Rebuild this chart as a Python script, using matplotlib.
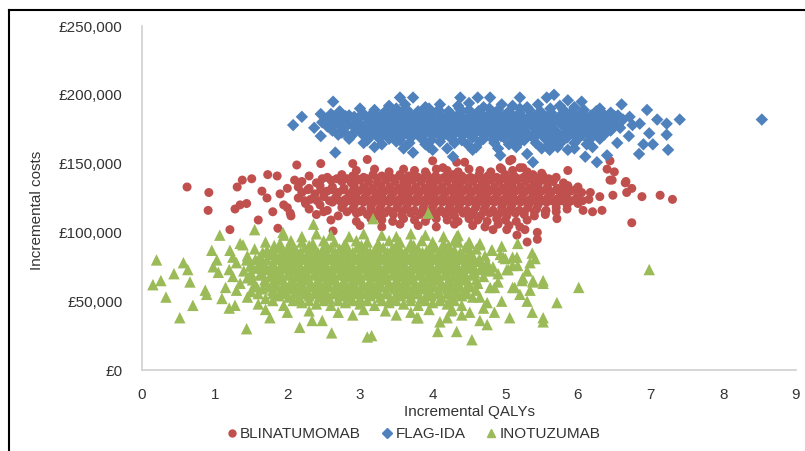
import matplotlib
matplotlib.use("Agg")
import matplotlib.pyplot as plt
from matplotlib.lines import Line2D
from matplotlib.ticker import FuncFormatter

plt.rcParams['font.family'] = ['Liberation Sans', 'DejaVu Sans']

# (incremental QALYs, incremental cost in £ thousands)
BLINATUMOMAB = [
    # core rows
    (2.95,145),(3.20,146),(3.40,144),(3.60,146),(3.75,145),(3.90,144),(4.05,146),(4.20,145),(4.35,144),(4.50,146),(4.65,145),(4.80,144),(4.95,146),(5.10,145),(5.30,144),(5.50,143),
    (2.30,141),(2.55,140),(2.75,142),(2.90,141),(3.05,140),(3.18,142),(3.30,141),(3.42,140),(3.55,142),(3.67,141),(3.80,140),(3.92,142),(4.04,141),(4.16,140),(4.28,142),(4.40,141),(4.52,140),(4.64,142),(4.76,141),(4.88,140),(5.00,142),(5.12,141),(5.25,140),(5.38,142),(5.52,141),(5.70,140),
    (2.20,137),(2.40,136),(2.60,138),(2.75,137),(2.88,136),(3.00,138),(3.12,137),(3.24,136),(3.36,138),(3.48,137),(3.60,136),(3.72,138),(3.84,137),(3.96,136),(4.08,138),(4.20,137),(4.32,136),(4.44,138),(4.56,137),(4.68,136),(4.80,138),(4.92,137),(5.04,136),(5.16,138),(5.28,137),(5.40,136),(5.52,138),(5.66,137),(5.80,136),
    (2.15,133),(2.30,132),(2.45,134),(2.62,133),(2.78,132),(2.92,134),(3.05,133),(3.17,132),(3.29,134),(3.41,133),(3.53,132),(3.65,134),(3.77,133),(3.89,132),(4.01,134),(4.13,133),(4.25,132),(4.37,134),(4.49,133),(4.61,132),(4.73,134),(4.85,133),(4.97,132),(5.09,134),(5.21,133),(5.33,132),(5.45,134),(5.58,133),(5.72,132),(5.86,134),(6.00,133),
    (2.20,129),(2.38,128),(2.55,130),(2.70,129),(2.85,128),(2.98,130),(3.10,129),(3.22,128),(3.34,130),(3.46,129),(3.58,128),(3.70,130),(3.82,129),(3.94,128),(4.06,130),(4.18,129),(4.30,128),(4.42,130),(4.54,129),(4.66,128),(4.78,130),(4.90,129),(5.02,128),(5.14,130),(5.26,129),(5.38,128),(5.50,130),(5.63,129),(5.76,128),(5.90,130),(6.05,129),
    (2.15,125),(2.32,124),(2.50,126),(2.66,125),(2.80,124),(2.94,126),(3.06,125),(3.18,124),(3.30,126),(3.42,125),(3.54,124),(3.66,126),(3.78,125),(3.90,124),(4.02,126),(4.14,125),(4.26,124),(4.38,126),(4.50,125),(4.62,124),(4.74,126),(4.86,125),(4.98,124),(5.10,126),(5.22,125),(5.34,124),(5.46,126),(5.58,125),(5.70,124),(5.84,126),(5.98,125),(6.15,124),
    (2.25,121),(2.45,120),(2.62,122),(2.78,121),(2.92,120),(3.05,122),(3.17,121),(3.29,120),(3.41,122),(3.53,121),(3.65,120),(3.77,122),(3.89,121),(4.01,120),(4.13,122),(4.25,121),(4.37,120),(4.49,122),(4.61,121),(4.73,120),(4.85,122),(4.97,121),(5.09,120),(5.21,122),(5.33,121),(5.45,120),(5.57,122),(5.70,121),(5.85,120),(6.00,121),
    (2.30,117),(2.55,116),(2.75,118),(2.90,117),(3.03,116),(3.15,118),(3.27,117),(3.39,116),(3.51,118),(3.63,117),(3.75,116),(3.87,118),(3.99,117),(4.11,116),(4.23,118),(4.35,117),(4.47,116),(4.59,118),(4.71,117),(4.83,116),(4.95,118),(5.07,117),(5.19,116),(5.31,118),(5.43,117),(5.56,116),(5.70,118),(5.85,117),
    (2.40,113),(2.70,112),(2.95,114),(3.10,113),(3.22,112),(3.34,114),(3.46,113),(3.58,112),(3.70,114),(3.82,113),(3.94,112),(4.06,114),(4.18,113),(4.30,112),(4.42,114),(4.54,113),(4.66,112),(4.78,114),(4.90,113),(5.02,112),(5.14,114),(5.26,113),(5.40,112),(5.55,113),
    (2.60,109),(2.95,108),(3.15,110),(3.30,109),(3.45,108),(3.60,110),(3.75,109),(3.90,108),(4.05,110),(4.20,109),(4.35,108),(4.50,110),(4.62,109),(4.75,108),(4.88,110),(5.00,109),(5.15,108),(5.30,109),
    (3.00,105),(3.30,104),(3.55,106),(3.80,105),(4.05,104),(4.30,106),(4.55,105),(4.72,104),(4.90,106),(5.05,105),(5.20,104),
    # additional core points
    (2.48,139),(2.68,139),(2.82,139),(2.96,139),(3.10,139),(3.24,139),(3.36,139),(3.49,139),(3.61,139),(3.73,139),(3.86,139),(3.98,139),(4.10,139),(4.22,139),(4.34,139),(4.46,139),(4.58,139),(4.70,139),(4.82,139),(4.94,139),(5.06,139),(5.18,139),(5.32,139),(5.45,139),(5.60,139),
    (2.28,131),(2.46,131),(2.62,131),(2.77,131),(2.91,131),(3.04,131),(3.16,131),(3.28,131),(3.40,131),(3.52,131),(3.64,131),(3.76,131),(3.88,131),(4.00,131),(4.12,131),(4.24,131),(4.36,131),(4.48,131),(4.60,131),(4.72,131),(4.84,131),(4.96,131),(5.08,131),(5.20,131),(5.32,131),(5.44,131),(5.57,131),(5.70,131),(5.83,131),(5.96,131),
    (2.24,123),(2.41,123),(2.58,123),(2.72,123),(2.86,123),(3.00,123),(3.12,123),(3.24,123),(3.36,123),(3.48,123),(3.60,123),(3.72,123),(3.84,123),(3.96,123),(4.08,123),(4.20,123),(4.32,123),(4.44,123),(4.56,123),(4.68,123),(4.80,123),(4.92,123),(5.04,123),(5.16,123),(5.28,123),(5.40,123),(5.52,123),(5.64,123),(5.77,123),(5.91,123),(6.06,123),
    (2.50,115),(2.82,115),(3.00,115),(3.16,115),(3.30,115),(3.44,115),(3.58,115),(3.72,115),(3.86,115),(4.00,115),(4.14,115),(4.28,115),(4.42,115),(4.56,115),(4.70,115),(4.84,115),(4.98,115),(5.12,115),(5.26,115),(5.40,115),(5.55,115),(5.70,115),
    # scattered points
    (0.62,133),(0.92,129),(0.91,116),(1.21,102),(1.31,133),(1.38,138),(1.51,139),(1.73,142),(1.86,141),(1.72,125),(1.35,120),(1.44,121),(1.28,117),(1.60,109),(1.87,103),
    (2.13,149),(2.46,150),(2.90,150),(3.10,153),(4.00,152),(4.14,147),(4.33,151),(4.44,151),(4.93,147),(5.06,152),(5.09,153),(5.20,147),(5.24,147),(5.86,145),
    (6.40,146),(6.44,152),(6.47,138),(6.66,137),(6.17,129),(6.30,126),(6.48,127),(6.67,129),(6.44,138),(6.50,144),(6.65,136),(6.74,132),(6.88,126),(7.13,127),(7.30,124),(6.74,107),
    (6.20,115),(6.33,116),(6.07,116),(5.71,110),(5.44,100),(5.30,93),(5.44,95),(5.27,102),(5.16,98),(5.02,102),(4.83,102),
    (2.00,132),(1.95,120),(2.05,112),(1.90,128),(2.10,138),(1.65,130),(1.80,115),(2.00,118),(2.04,114),(2.63,101),
]

FLAG_IDA = [
    (3.40,192),(3.62,193),(3.90,191),(4.10,193),(4.35,192),(4.50,194),(4.70,191),(4.95,193),(5.10,192),(5.30,191),(5.45,193),(5.75,192),(5.95,191),(6.30,190),
    (2.72,188),(3.00,190),(3.20,189),(3.35,188),(3.50,190),(3.65,189),(3.80,188),(3.95,190),(4.08,189),(4.22,188),(4.37,190),(4.50,189),(4.63,188),(4.78,190),(4.90,189),(5.05,188),(5.20,190),(5.33,189),(5.48,188),(5.62,190),(5.80,189),(5.92,188),(6.08,189),(6.25,188),(6.45,187),
    (2.60,186),(2.85,185),(3.05,186),(3.18,187),(3.30,185),(3.43,186),(3.57,187),(3.70,185),(3.83,186),(3.97,187),(4.10,185),(4.25,186),(4.38,187),(4.52,185),(4.66,186),(4.80,187),(4.93,185),(5.07,186),(5.20,187),(5.35,185),(5.50,186),(5.63,187),(5.77,185),(5.90,186),(6.05,187),(6.18,185),(6.35,186),(6.55,185),
    (2.55,183),(2.70,182),(2.92,184),(3.10,183),(3.22,182),(3.36,184),(3.50,183),(3.63,182),(3.77,184),(3.90,183),(4.03,182),(4.17,184),(4.30,183),(4.45,182),(4.58,184),(4.72,183),(4.85,182),(4.98,184),(5.12,183),(5.27,182),(5.40,184),(5.55,183),(5.68,182),(5.82,184),(5.97,183),(6.10,182),(6.25,184),(6.42,183),(6.62,182),
    (2.48,180),(2.65,179),(2.80,181),(2.98,180),(3.12,179),(3.27,181),(3.40,180),(3.55,179),(3.68,181),(3.82,180),(3.95,179),(4.08,181),(4.22,180),(4.36,179),(4.50,181),(4.63,180),(4.77,179),(4.90,181),(5.03,180),(5.17,179),(5.32,181),(5.45,180),(5.60,179),(5.74,181),(5.88,180),(6.02,179),(6.15,181),(6.30,180),(6.48,179),
    (2.55,177),(2.75,176),(2.90,178),(3.05,177),(3.20,176),(3.33,178),(3.47,177),(3.60,176),(3.74,178),(3.87,177),(4.00,176),(4.14,178),(4.28,177),(4.42,176),(4.55,178),(4.68,177),(4.82,176),(4.95,178),(5.08,177),(5.23,176),(5.37,178),(5.52,177),(5.65,176),(5.80,178),(5.93,177),(6.07,176),(6.20,178),(6.38,177),(6.58,176),
    (2.62,174),(2.78,173),(2.95,175),(3.10,174),(3.25,173),(3.38,175),(3.52,174),(3.66,173),(3.80,175),(3.93,174),(4.06,173),(4.20,175),(4.33,174),(4.47,173),(4.60,175),(4.74,174),(4.87,173),(5.00,175),(5.14,174),(5.28,173),(5.42,175),(5.56,174),(5.70,173),(5.84,175),(5.98,174),(6.12,173),(6.27,175),(6.45,174),
    (2.70,171),(2.88,170),(3.02,172),(3.17,171),(3.30,170),(3.45,172),(3.60,171),(3.72,170),(3.86,172),(4.00,171),(4.13,170),(4.27,172),(4.40,171),(4.54,170),(4.68,172),(4.81,171),(4.94,170),(5.08,172),(5.22,171),(5.36,170),(5.50,172),(5.64,171),(5.78,170),(5.92,172),(6.06,171),(6.20,170),(6.36,171),
    (2.85,168),(3.10,167),(3.25,169),(3.40,168),(3.55,167),(3.70,169),(3.85,168),(3.98,167),(4.12,169),(4.26,168),(4.40,167),(4.55,169),(4.70,168),(4.84,167),(4.98,169),(5.12,168),(5.26,167),(5.40,169),(5.55,168),(5.70,167),(5.85,169),(6.00,168),(6.15,167),(6.30,168),
    (3.05,165),(3.30,164),(3.50,166),(3.68,165),(3.90,164),(4.10,166),(4.30,165),(4.48,164),(4.65,166),(4.85,165),(5.05,164),(5.20,166),(5.42,165),(5.60,164),(5.78,166),(5.95,165),(6.12,164),
    (3.20,162),(3.60,161),(3.95,162),(4.20,161),(4.60,162),(4.90,161),(5.15,162),(5.50,161),(5.72,162),(5.95,161),(6.20,162),
    # additional core points
    (2.63,184.5),(2.80,184.5),(3.00,184.5),(3.16,184.5),(3.29,184.5),(3.43,184.5),(3.56,184.5),(3.70,184.5),(3.84,184.5),(3.97,184.5),(4.10,184.5),(4.24,184.5),(4.37,184.5),(4.51,184.5),(4.65,184.5),(4.79,184.5),(4.92,184.5),(5.05,184.5),(5.19,184.5),(5.33,184.5),(5.47,184.5),(5.61,184.5),(5.75,184.5),(5.89,184.5),(6.03,184.5),(6.17,184.5),(6.33,184.5),(6.50,184.5),
    (2.58,178.5),(2.84,178.5),(3.00,178.5),(3.15,178.5),(3.30,178.5),(3.44,178.5),(3.57,178.5),(3.71,178.5),(3.85,178.5),(3.98,178.5),(4.11,178.5),(4.25,178.5),(4.39,178.5),(4.52,178.5),(4.66,178.5),(4.80,178.5),(4.93,178.5),(5.06,178.5),(5.20,178.5),(5.34,178.5),(5.49,178.5),(5.62,178.5),(5.77,178.5),(5.91,178.5),(6.04,178.5),(6.18,178.5),(6.34,178.5),(6.52,178.5),
    (2.75,172.5),(2.92,172.5),(3.07,172.5),(3.22,172.5),(3.36,172.5),(3.50,172.5),(3.64,172.5),(3.78,172.5),(3.91,172.5),(4.04,172.5),(4.18,172.5),(4.32,172.5),(4.45,172.5),(4.59,172.5),(4.73,172.5),(4.86,172.5),(5.00,172.5),(5.14,172.5),(5.28,172.5),(5.43,172.5),(5.57,172.5),(5.71,172.5),(5.85,172.5),(5.99,172.5),(6.14,172.5),(6.30,172.5),
    # scattered points
    (2.08,178),(2.20,184),(2.63,195),(2.37,176),(2.46,170),(2.46,186),(2.66,158),(3.55,198),(3.73,198),(4.38,198),(4.62,198),(4.79,198),(5.20,198),(5.57,198),(5.67,200),(5.86,196),(6.05,195),
    (6.60,193),(6.95,189),(6.71,184),(6.85,179),(7.09,182),(7.22,179),(7.40,182),(8.53,182),(7.22,171),(7.24,160),(7.03,164),(6.90,164),(6.84,157),(6.54,165),(6.40,156),(6.26,151),(6.10,155),
    (5.38,151),(4.93,156),(5.30,157),(3.73,158),(4.00,160),(4.28,155),(4.55,160),(5.61,160),(5.86,160),(6.75,178),(6.70,170),(6.98,172),
]

INOTUZUMAB = [
    (1.95,98),(2.20,97),(2.40,99),(2.60,98),(2.85,97),(3.05,99),(3.30,98),(3.50,97),(3.70,99),(3.90,98),(4.15,97),(4.35,98),
    (1.70,93),(1.90,92),(2.05,94),(2.20,93),(2.35,92),(2.50,94),(2.65,93),(2.80,92),(2.95,94),(3.10,93),(3.25,92),(3.40,94),(3.55,93),(3.70,92),(3.85,94),(4.00,93),(4.15,92),(4.30,94),(4.50,93),
    (1.55,88),(1.72,87),(1.88,89),(2.00,88),(2.12,87),(2.24,89),(2.36,88),(2.48,87),(2.60,89),(2.72,88),(2.84,87),(2.96,89),(3.08,88),(3.20,87),(3.32,89),(3.44,88),(3.56,87),(3.68,89),(3.80,88),(3.92,87),(4.04,89),(4.16,88),(4.30,87),(4.45,89),(4.60,88),
    (1.45,83),(1.62,82),(1.78,84),(1.90,83),(2.02,82),(2.14,84),(2.26,83),(2.38,82),(2.50,84),(2.62,83),(2.74,82),(2.86,84),(2.98,83),(3.10,82),(3.22,84),(3.34,83),(3.46,82),(3.58,84),(3.70,83),(3.82,82),(3.94,84),(4.06,83),(4.18,82),(4.30,84),(4.42,83),(4.56,82),(4.72,83),
    (1.30,78),(1.50,77),(1.66,79),(1.80,78),(1.92,77),(2.04,79),(2.16,78),(2.28,77),(2.40,79),(2.52,78),(2.64,77),(2.76,79),(2.88,78),(3.00,77),(3.12,79),(3.24,78),(3.36,77),(3.48,79),(3.60,78),(3.72,77),(3.84,79),(3.96,78),(4.08,77),(4.20,79),(4.32,78),(4.44,77),(4.58,79),(4.75,78),
    (1.20,73),(1.40,72),(1.58,74),(1.72,73),(1.85,72),(1.97,74),(2.09,73),(2.21,72),(2.33,74),(2.45,73),(2.57,72),(2.69,74),(2.81,73),(2.93,72),(3.05,74),(3.17,73),(3.29,72),(3.41,74),(3.53,73),(3.65,72),(3.77,74),(3.89,73),(4.01,72),(4.13,74),(4.25,73),(4.37,72),(4.50,74),(4.65,73),(4.80,72),
    (1.25,68),(1.45,67),(1.62,69),(1.76,68),(1.88,67),(2.00,69),(2.12,68),(2.24,67),(2.36,69),(2.48,68),(2.60,67),(2.72,69),(2.84,68),(2.96,67),(3.08,69),(3.20,68),(3.32,67),(3.44,69),(3.56,68),(3.68,67),(3.80,69),(3.92,68),(4.04,67),(4.16,69),(4.28,68),(4.40,67),(4.54,69),(4.70,68),
    (1.35,63),(1.55,62),(1.70,64),(1.83,63),(1.95,62),(2.07,64),(2.19,63),(2.31,62),(2.43,64),(2.55,63),(2.67,62),(2.79,64),(2.91,63),(3.03,62),(3.15,64),(3.27,63),(3.39,62),(3.51,64),(3.63,63),(3.75,62),(3.87,64),(3.99,63),(4.11,62),(4.23,64),(4.35,63),(4.48,62),(4.62,63),
    (1.30,58),(1.50,57),(1.66,59),(1.80,58),(1.92,57),(2.04,59),(2.16,58),(2.28,57),(2.40,59),(2.52,58),(2.64,57),(2.76,59),(2.88,58),(3.00,57),(3.12,59),(3.24,58),(3.36,57),(3.48,59),(3.60,58),(3.72,57),(3.84,59),(3.96,58),(4.08,57),(4.20,59),(4.32,58),(4.45,57),(4.60,58),
    (1.45,53),(1.70,52),(1.88,54),(2.02,53),(2.16,52),(2.30,54),(2.44,53),(2.58,52),(2.72,54),(2.86,53),(3.00,52),(3.14,54),(3.28,53),(3.42,52),(3.56,54),(3.70,53),(3.84,52),(3.98,54),(4.12,53),(4.26,52),(4.40,54),(4.55,53),
    (1.60,48),(1.95,47),(2.20,49),(2.40,48),(2.60,47),(2.80,49),(3.00,48),(3.20,47),(3.40,49),(3.60,48),(3.80,47),(4.00,49),(4.20,48),(4.40,47),
    (2.30,43),(2.70,42),(3.05,44),(3.35,43),(3.70,42),(3.95,44),(4.25,43),
    # additional core points
    (1.82,90.5),(2.06,90.5),(2.30,90.5),(2.54,90.5),(2.78,90.5),(3.02,90.5),(3.26,90.5),(3.50,90.5),(3.74,90.5),(3.98,90.5),(4.22,90.5),
    (1.66,85.5),(1.82,85.5),(1.94,85.5),(2.06,85.5),(2.18,85.5),(2.30,85.5),(2.42,85.5),(2.54,85.5),(2.66,85.5),(2.78,85.5),(2.90,85.5),(3.02,85.5),(3.14,85.5),(3.26,85.5),(3.38,85.5),(3.50,85.5),(3.62,85.5),(3.74,85.5),(3.86,85.5),(3.98,85.5),(4.10,85.5),(4.24,85.5),(4.38,85.5),(4.52,85.5),
    (1.56,80.5),(1.72,80.5),(1.86,80.5),(1.98,80.5),(2.10,80.5),(2.22,80.5),(2.34,80.5),(2.46,80.5),(2.58,80.5),(2.70,80.5),(2.82,80.5),(2.94,80.5),(3.06,80.5),(3.18,80.5),(3.30,80.5),(3.42,80.5),(3.54,80.5),(3.66,80.5),(3.78,80.5),(3.90,80.5),(4.02,80.5),(4.14,80.5),(4.26,80.5),(4.38,80.5),(4.50,80.5),(4.64,80.5),
    (1.50,75.5),(1.65,75.5),(1.78,75.5),(1.91,75.5),(2.03,75.5),(2.15,75.5),(2.27,75.5),(2.39,75.5),(2.51,75.5),(2.63,75.5),(2.75,75.5),(2.87,75.5),(2.99,75.5),(3.11,75.5),(3.23,75.5),(3.35,75.5),(3.47,75.5),(3.59,75.5),(3.71,75.5),(3.83,75.5),(3.95,75.5),(4.07,75.5),(4.19,75.5),(4.31,75.5),(4.43,75.5),(4.56,75.5),(4.70,75.5),
    (1.50,70.5),(1.65,70.5),(1.79,70.5),(1.91,70.5),(2.03,70.5),(2.15,70.5),(2.27,70.5),(2.39,70.5),(2.51,70.5),(2.63,70.5),(2.75,70.5),(2.87,70.5),(2.99,70.5),(3.11,70.5),(3.23,70.5),(3.35,70.5),(3.47,70.5),(3.59,70.5),(3.71,70.5),(3.83,70.5),(3.95,70.5),(4.07,70.5),(4.19,70.5),(4.31,70.5),(4.44,70.5),(4.58,70.5),
    (1.52,65.5),(1.69,65.5),(1.82,65.5),(1.94,65.5),(2.06,65.5),(2.18,65.5),(2.30,65.5),(2.42,65.5),(2.54,65.5),(2.66,65.5),(2.78,65.5),(2.90,65.5),(3.02,65.5),(3.14,65.5),(3.26,65.5),(3.38,65.5),(3.50,65.5),(3.62,65.5),(3.74,65.5),(3.86,65.5),(3.98,65.5),(4.10,65.5),(4.22,65.5),(4.34,65.5),(4.47,65.5),(4.60,65.5),
    (1.58,60.5),(1.74,60.5),(1.86,60.5),(1.98,60.5),(2.10,60.5),(2.22,60.5),(2.34,60.5),(2.46,60.5),(2.58,60.5),(2.70,60.5),(2.82,60.5),(2.94,60.5),(3.06,60.5),(3.18,60.5),(3.30,60.5),(3.42,60.5),(3.54,60.5),(3.66,60.5),(3.78,60.5),(3.90,60.5),(4.02,60.5),(4.14,60.5),(4.26,60.5),(4.38,60.5),(4.52,60.5),
    (1.60,55.5),(1.80,55.5),(1.95,55.5),(2.10,55.5),(2.24,55.5),(2.38,55.5),(2.52,55.5),(2.66,55.5),(2.80,55.5),(2.94,55.5),(3.08,55.5),(3.22,55.5),(3.36,55.5),(3.50,55.5),(3.64,55.5),(3.78,55.5),(3.92,55.5),(4.06,55.5),(4.20,55.5),(4.34,55.5),(4.48,55.5),
    (1.80,50.5),(2.08,50.5),(2.30,50.5),(2.50,50.5),(2.70,50.5),(2.90,50.5),(3.10,50.5),(3.30,50.5),(3.50,50.5),(3.70,50.5),(3.90,50.5),(4.10,50.5),(4.30,50.5),
    # right-hand fringe
    (4.51,87),(4.65,91),(4.82,87),(4.65,80),(4.75,73),(4.83,75),(4.90,64),(4.79,60),(4.65,53),(4.75,49),(4.51,42),(4.27,44),(4.10,35),(3.78,38),
    (5.10,60),(5.24,67),(5.38,64),(5.52,63),(5.17,76),(5.34,78),(5.04,73),(4.93,84),(5.10,82),(4.35,93),(4.33,97),
    # scattered points
    (0.20,80),(0.15,62),(0.26,65),(0.33,53),(0.44,70),(0.52,38),(0.57,78),(0.63,73),(0.66,64),(0.70,47),(0.87,58),(0.89,55),(0.96,87),(0.98,75),(1.07,98),(1.05,71),(1.03,80),
    (1.21,87),(1.25,82),(1.28,47),(1.35,92),(1.39,91),(1.44,30),(1.55,102),(1.44,80),(1.76,38),(2.17,31),(2.34,36),(2.48,36),(2.61,27),(3.10,24),(3.16,25),(1.94,100),(2.36,106),(3.18,110),
    (3.94,114),(5.17,92),(5.41,81),(5.37,85),(5.00,81),(5.16,82),(5.02,73),(5.10,76),(5.52,65),(5.38,65),(5.23,65),(5.13,60),(5.34,58),(5.71,49),(6.01,60),(6.98,73),(5.37,42),(5.52,38),(5.52,35),
    (5.06,38),(4.75,33),(4.65,36),(4.54,22),(4.33,28),(4.07,28),(4.51,92),(4.65,92),(4.81,87),(4.97,82),(1.15,60),(1.10,52),(1.20,45),(4.90,70),(4.85,60),(4.95,50),(4.70,45),(4.85,42),
    (3.50,40),(3.80,38),(2.90,40),(2.00,42),(1.70,44),(4.20,38),(4.40,40),(5.20,55),(5.30,50),(4.95,90),(5.30,72),
]

X_TICKS = [0, 1, 2, 3, 4, 5, 6, 7, 8, 9]
Y_TICKS = [0, 50000, 100000, 150000, 200000, 250000]

SERIES = ["BLINATUMOMAB", "FLAG-IDA", "INOTUZUMAB"]
COLORS = ["#C0504D", "#4F81BD", "#9BBB59"]
MARKERS = ["o", "D", "^"]
SIZES = [42, 40, 68]

W, H = 805, 451
fig = plt.figure(figsize=(W / 100, H / 100), dpi=100)
ax = fig.add_axes([142 / W, 1 - 370 / H, (796 - 142) / W, (370 - 26) / H])

for data, name, col, mk, sz in zip([BLINATUMOMAB, FLAG_IDA, INOTUZUMAB], SERIES, COLORS, MARKERS, SIZES):
    xs = [p[0] for p in data]
    ys = [p[1] * 1000 for p in data]
    ax.scatter(xs, ys, s=sz, marker=mk, color=col, edgecolors='none', label=name)

ax.set_xlim(0, 9)
ax.set_ylim(0, 250000)
ax.set_xticks(X_TICKS)
ax.set_yticks(Y_TICKS)
ax.yaxis.set_major_formatter(FuncFormatter(lambda v, p: "£{:,.0f}".format(v)))
for s in ["top", "right"]:
    ax.spines[s].set_visible(False)
for s in ["left", "bottom"]:
    ax.spines[s].set_color("#D0D0D0")
    ax.spines[s].set_linewidth(1.2)
ax.tick_params(length=0, labelsize=11, colors="#333333")
ax.tick_params(axis='y', pad=14)
ax.tick_params(axis='x', pad=13)

fig.text(469 / W, 1 - 412 / H, "Incremental QALYs", ha='center', va='center', fontsize=11, color="#333333")
fig.text(37 / W, 1 - 210 / H, "Incremental costs", ha='center', va='center', rotation=90, fontsize=11, color="#333333")

handles = [Line2D([], [], linestyle='none', marker=m, color=c, markersize=ms)
           for m, c, ms in zip(MARKERS, COLORS, [5, 5, 6])]
fig.legend(handles, SERIES, loc='center', bbox_to_anchor=(414 / W, 1 - 434 / H), ncol=3,
           frameon=False, fontsize=11, handlelength=0.6, handletextpad=0.25, columnspacing=1.4,
           borderpad=0, labelcolor="#333333")

# outer chart border (cropped at right and bottom)
fig.add_artist(Line2D([9 / W, 9 / W], [0, 1 - 10 / H], color="black", lw=1.5, transform=fig.transFigure))
fig.add_artist(Line2D([9 / W, 1], [1 - 10 / H, 1 - 10 / H], color="black", lw=1.5, transform=fig.transFigure))

fig.savefig("out.png", dpi=100)
